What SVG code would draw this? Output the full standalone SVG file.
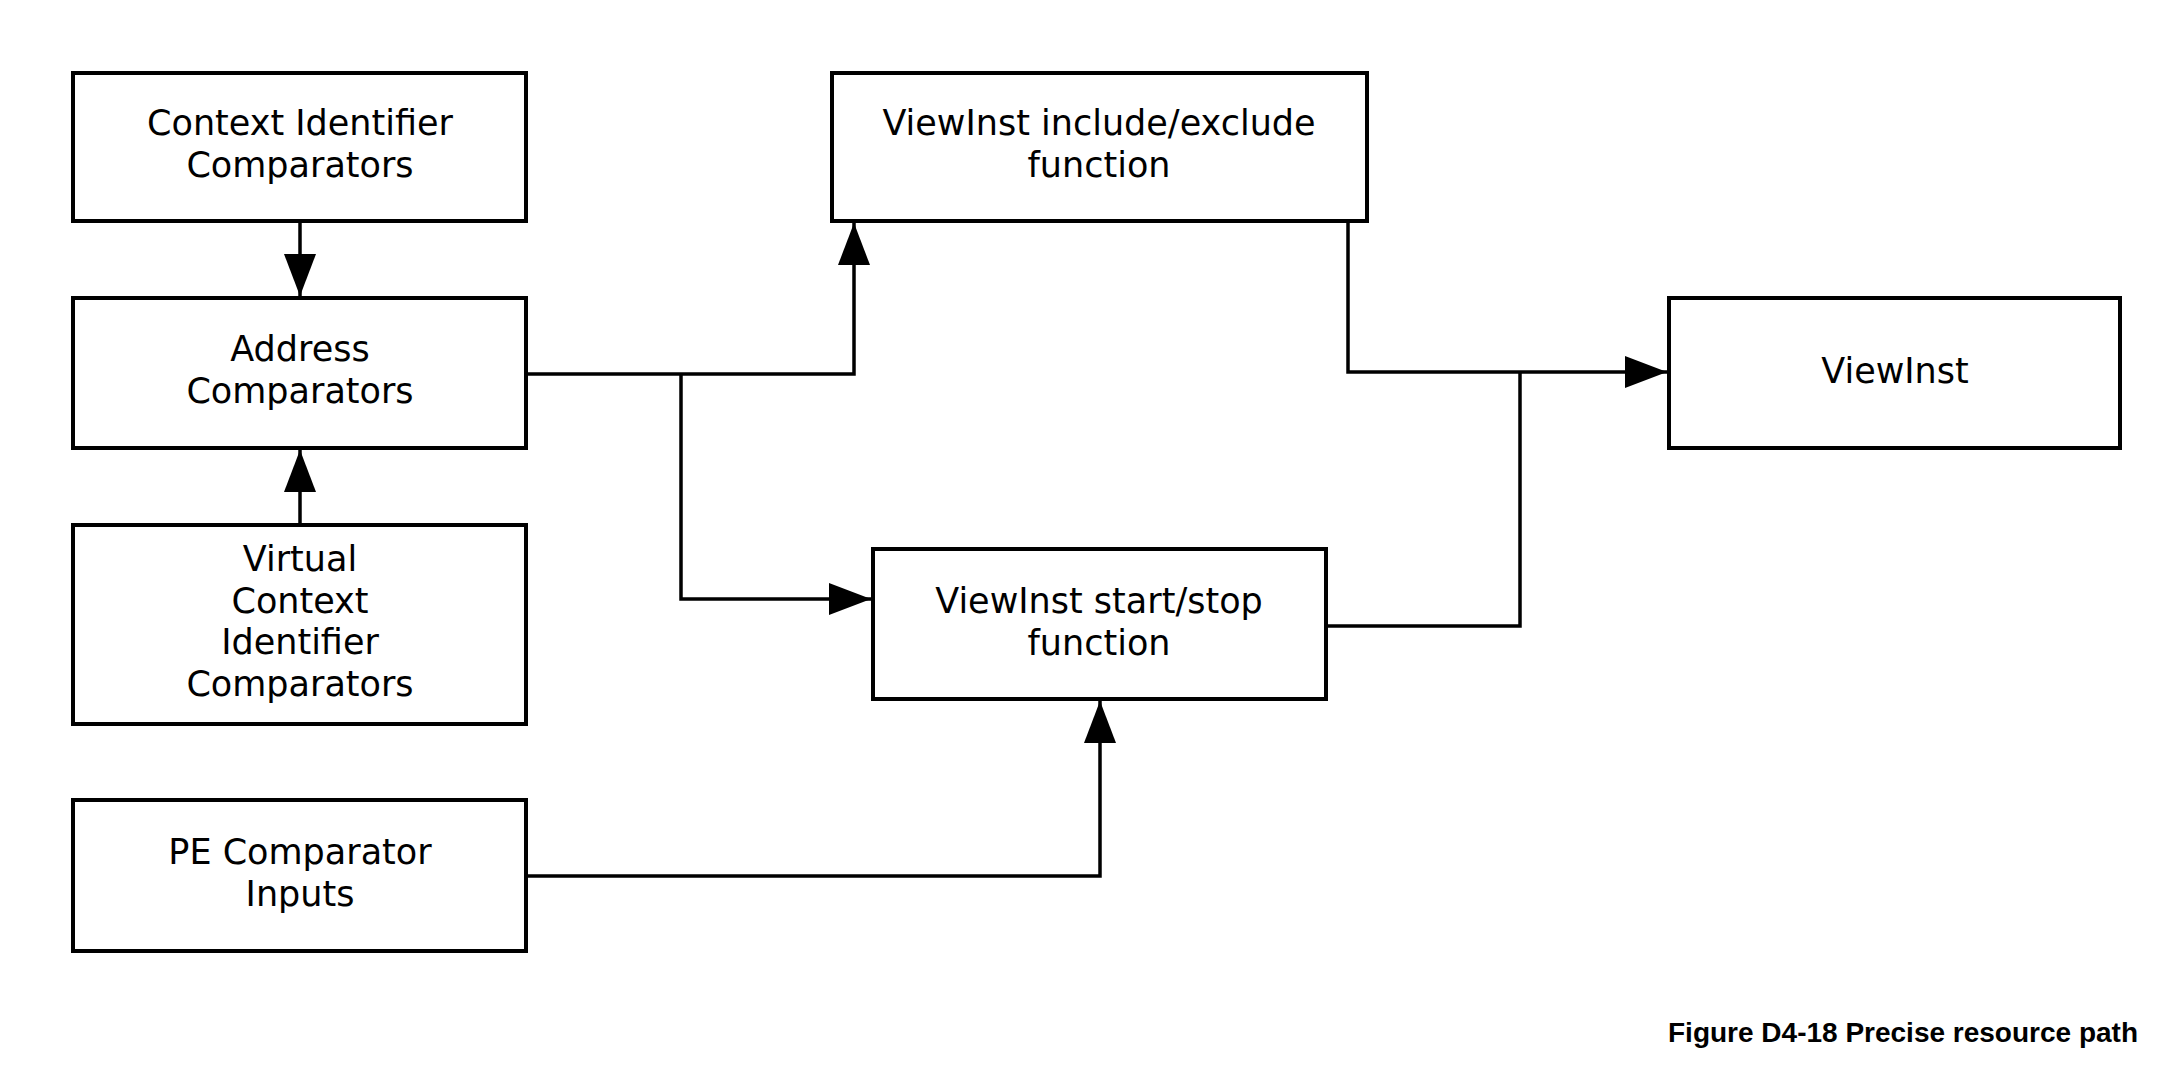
<svg xmlns="http://www.w3.org/2000/svg" width="2159" height="1084" viewBox="0 0 2159 1084">
<style>
.b{fill:#fff;stroke:#000;stroke-width:4}
.t{font-family:"DejaVu Sans",sans-serif;font-size:35px;text-anchor:middle;fill:#000}
.c{fill:none;stroke:#000;stroke-width:3.5}
</style>
<defs><marker id="a" markerUnits="userSpaceOnUse" markerWidth="44" markerHeight="34" refX="42" refY="17" orient="auto"><path d="M0,1 L42,17 L0,33 Z" fill="#000"/></marker></defs>
<rect width="2159" height="1084" fill="#fff"/>
<g id="connectors">
<path class="c" d="M300,221 V296" marker-end="url(#a)"/>
<path class="c" d="M300,525 V450" marker-end="url(#a)"/>
<path class="c" d="M526,374 H681 H854 V223" marker-end="url(#a)"/>
<path class="c" d="M681,374 V599 H871" marker-end="url(#a)"/>
<path class="c" d="M1348,221 V372 H1667" marker-end="url(#a)"/>
<path class="c" d="M1326,626 H1520 V372"/>
<path class="c" d="M526,876 H1100 V701" marker-end="url(#a)"/>
</g>
<g id="n1"><rect class="b" x="73" y="73" width="453" height="148"/><text class="t" x="300" y="135">Context Identifier</text><text class="t" x="300" y="177">Comparators</text></g>
<g id="n2"><rect class="b" x="73" y="298" width="453" height="150"/><text class="t" x="300" y="361">Address</text><text class="t" x="300" y="403">Comparators</text></g>
<g id="n3"><rect class="b" x="73" y="525" width="453" height="199"/><text class="t" x="300" y="571">Virtual</text><text class="t" x="300" y="613">Context</text><text class="t" x="300" y="654">Identifier</text><text class="t" x="300" y="696">Comparators</text></g>
<g id="n4"><rect class="b" x="73" y="800" width="453" height="151"/><text class="t" x="300" y="864">PE Comparator</text><text class="t" x="300" y="906">Inputs</text></g>
<g id="n5"><rect class="b" x="832" y="73" width="535" height="148"/><text class="t" x="1099" y="135">ViewInst include/exclude</text><text class="t" x="1099" y="177">function</text></g>
<g id="n6"><rect class="b" x="873" y="549" width="453" height="150"/><text class="t" x="1099" y="613">ViewInst start/stop</text><text class="t" x="1099" y="655">function</text></g>
<g id="n7"><rect class="b" x="1669" y="298" width="451" height="150"/><text class="t" x="1895" y="383">ViewInst</text></g>
<text x="2138" y="1042" style="font-family:'Liberation Sans',Arial,sans-serif;font-size:28px;font-weight:bold;text-anchor:end">Figure D4-18 Precise resource path</text>
</svg>
